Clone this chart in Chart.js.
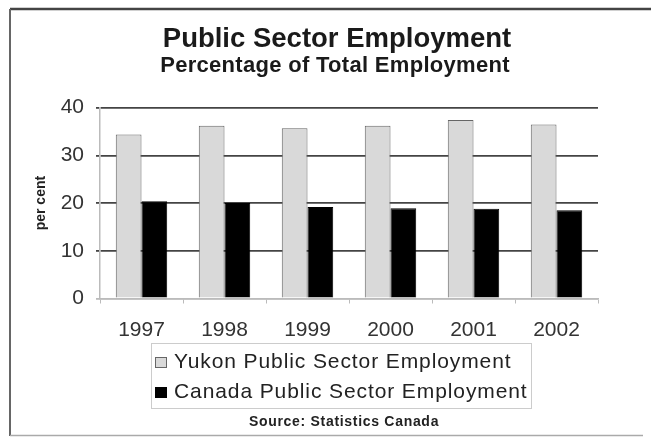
<!DOCTYPE html>
<html>
<head>
<meta charset="utf-8">
<title>Public Sector Employment</title>
<script src="https://cdn.jsdelivr.net/npm/chart.js@4/dist/chart.umd.min.js"></script>
<style>
  html, body { margin: 0; padding: 0; background: #fff; }
  #wrap { width: 651px; height: 438px; }
</style>
</head>
<body>
<div id="wrap"><canvas id="sectorChart" width="651" height="438"></canvas></div>
<script>
// per cent of total employment, by year
const years = ["1997", "1998", "1999", "2000", "2001", "2002"];
const yukonShare = [34.4, 36.2, 35.7, 36.2, 37.4, 36.5];
const canadaShare = [20.4, 20.0, 19.2, 18.9, 18.8, 18.5];
const seriesNames = ["Yukon Public Sector Employment", "Canada Public Sector Employment"];
const yTicks = [0, 10, 20, 30, 40];
const titleText = "Public Sector Employment";
const subtitleText = "Percentage of Total Employment";
const sourceNote = "Source: Statistics Canada";

const FONT = "'Liberation Sans', Arial, sans-serif";

// white page with the thin frame on the left, top and bottom
const framePlugin = {
  id: "frame",
  beforeDraw(chart) {
    const c = chart.ctx;
    c.save();
    c.fillStyle = "#fff";
    c.fillRect(0, 0, chart.width, chart.height);
    c.strokeStyle = "#444";
    c.lineWidth = 2.5;
    c.beginPath();
    c.moveTo(10, 9);
    c.lineTo(chart.width, 9);
    c.stroke();
    c.lineWidth = 2;
    c.strokeStyle = "#666";
    c.beginPath();
    c.moveTo(10, 9);
    c.lineTo(10, 436);
    c.stroke();
    c.strokeStyle = "#aaa";
    c.lineWidth = 1.5;
    c.beginPath();
    c.moveTo(10, 435.5);
    c.lineTo(643, 435.5);
    c.stroke();
    c.restore();
  },
};

// two title lines, the boxed two-row legend and the source line
const annotatePlugin = {
  id: "annotate",
  afterDraw(chart) {
    const c = chart.ctx;
    const sets = chart.data.datasets;
    c.save();
    c.fillStyle = "#1a1a1a";
    c.textAlign = "center";
    c.textBaseline = "alphabetic";
    c.font = "bold 27.5px " + FONT;
    c.fillText(titleText, 337, 47);
    c.font = "bold 22px " + FONT;
    c.letterSpacing = "0.3px";
    c.fillText(subtitleText, 335, 72);

    c.strokeStyle = "#ccc";
    c.lineWidth = 1;
    c.strokeRect(151.5, 343.5, 380, 65);

    c.font = "21px " + FONT;
    c.letterSpacing = "0.9px";
    c.textAlign = "left";
    const rows = [368, 398];
    sets.forEach((ds, i) => {
      const base = rows[i];
      c.fillStyle = ds.backgroundColor;
      c.fillRect(155, base - 11, 12, 11);
      c.strokeStyle = ds.borderColor;
      c.lineWidth = 1;
      c.strokeRect(155.5, base - 10.5, 11, 10);
      c.fillStyle = "#222";
      c.fillText(ds.label, 174, base);
    });

    c.font = "bold 14px " + FONT;
    c.letterSpacing = "0.7px";
    c.textAlign = "center";
    c.textBaseline = "middle";
    c.fillStyle = "#222";
    c.fillText(sourceNote, 344, 422);
    c.restore();
  },
};

const ctx = document.getElementById("sectorChart").getContext("2d");
new Chart(ctx, {
  type: "bar",
  data: {
    labels: years,
    datasets: [
      {
        label: seriesNames[0],
        data: yukonShare,
        backgroundColor: "#d9d9d9",
        borderColor: "#666",
        borderWidth: 1,
      },
      {
        label: seriesNames[1],
        data: canadaShare,
        backgroundColor: "#000",
        borderColor: "#000",
        borderWidth: 1,
      },
    ],
  },
  options: {
    responsive: false,
    animation: false,
    devicePixelRatio: 1,
    categoryPercentage: 0.62,
    barPercentage: 1,
    layout: {
      padding: { left: 12, right: 53, top: 107.7, bottom: 99.5 },
    },
    plugins: {
      legend: { display: false },
      tooltip: { enabled: false },
    },
    scales: {
      x: {
        afterFit(scale) {
          scale.height = 40;
        },
        grid: {
          drawOnChartArea: false,
          tickLength: 5,
          color: "#bbb",
        },
        border: { color: "#bbb", width: 1.5 },
        ticks: {
          color: "#333",
          padding: 14,
          font: { family: FONT, size: 21 },
        },
      },
      y: {
        min: 0,
        max: 40,
        afterFit(scale) {
          scale.width = 88;
        },
        afterBuildTicks(scale) {
          scale.ticks = yTicks.map((v) => ({ value: v }));
        },
        grid: {
          tickLength: 4,
          lineWidth: 1.8,
          color: (c) => (c.tick && c.tick.value === 0 ? "#bbb" : "#444"),
        },
        border: { color: "#bbb", width: 1.5 },
        ticks: {
          color: "#333",
          padding: 12,
          font: { family: FONT, size: 21 },
        },
        title: {
          display: true,
          text: "per cent",
          color: "#222",
          font: { family: FONT, size: 14, weight: "bold" },
          padding: { top: 21, bottom: 0 },
        },
      },
    },
  },
  plugins: [framePlugin, annotatePlugin],
});
</script>
</body>
</html>
